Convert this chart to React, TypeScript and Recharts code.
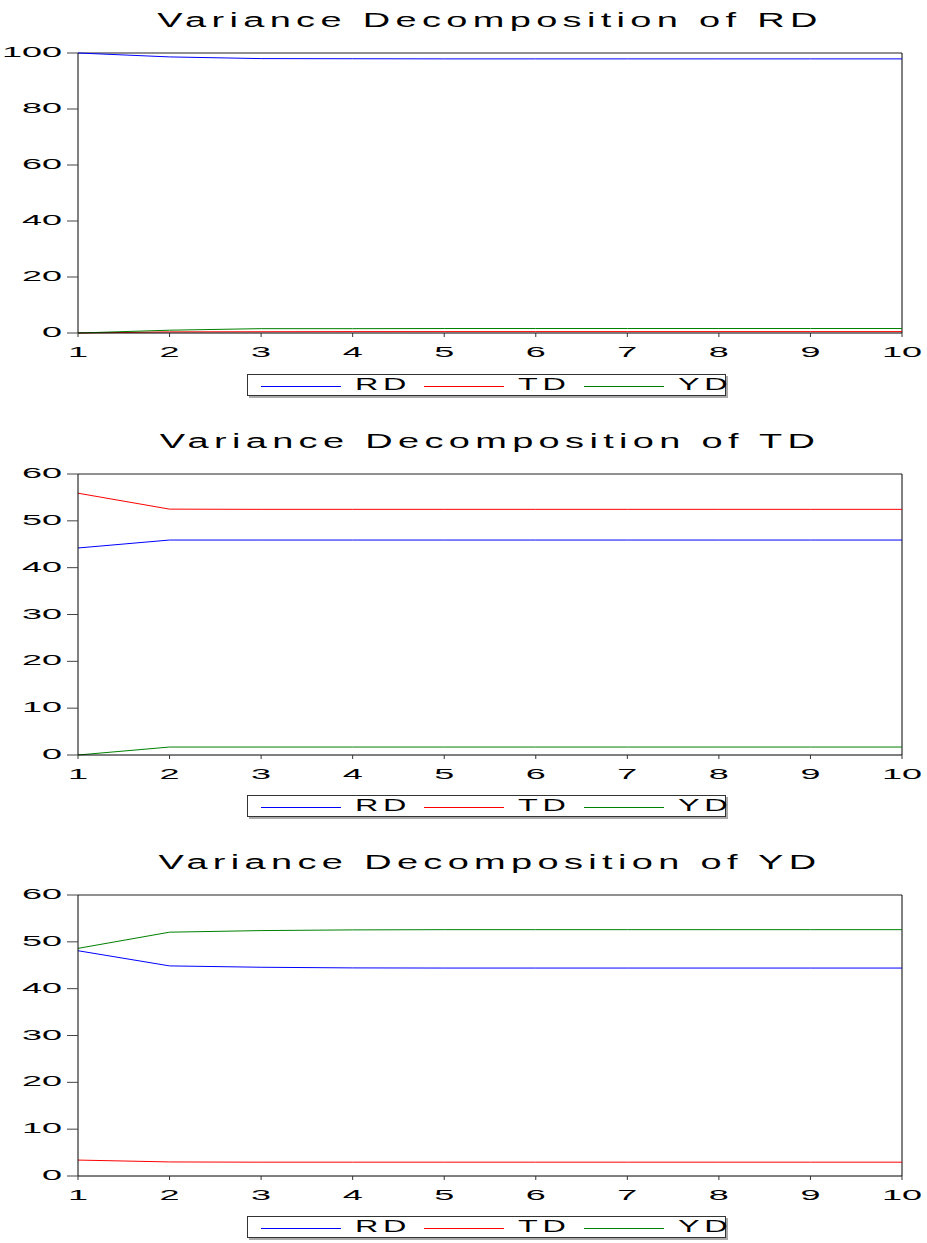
import React from 'react';
import { LineChart, Line, XAxis, YAxis, ReferenceLine } from 'recharts';

// ---------- data ----------
const periods = [1, 2, 3, 4, 5, 6, 7, 8, 9, 10];
const seriesNames = ['RD', 'TD', 'YD'];
const seriesColors = ['#0000ff', '#ff0000', '#008000'];

// Variance Decomposition of RD
const rdOfRD = [100, 98.6, 98.0, 97.95, 97.9, 97.9, 97.9, 97.9, 97.9, 97.9];
const tdOfRD = [0, 0.4, 0.45, 0.5, 0.5, 0.5, 0.5, 0.5, 0.5, 0.5];
const ydOfRD = [0, 1.0, 1.55, 1.55, 1.6, 1.6, 1.6, 1.6, 1.6, 1.6];

// Variance Decomposition of TD
const rdOfTD = [44.2, 45.9, 45.9, 45.9, 45.9, 45.9, 45.9, 45.9, 45.9, 45.9];
const tdOfTD = [55.9, 52.5, 52.45, 52.45, 52.45, 52.45, 52.45, 52.45, 52.45, 52.45];
const ydOfTD = [0, 1.7, 1.7, 1.7, 1.7, 1.7, 1.7, 1.7, 1.7, 1.7];

// Variance Decomposition of YD
const rdOfYD = [48.1, 44.86, 44.57, 44.43, 44.4, 44.4, 44.4, 44.4, 44.4, 44.4];
const tdOfYD = [3.4, 3.0, 2.95, 2.95, 2.95, 2.95, 2.95, 2.95, 2.95, 2.95];
const ydOfYD = [48.6, 52.06, 52.4, 52.55, 52.6, 52.6, 52.6, 52.6, 52.6, 52.6];

const titles = [
  'Variance Decomposition of RD',
  'Variance Decomposition of TD',
  'Variance Decomposition of YD',
];
const yTicks100 = [0, 20, 40, 60, 80, 100];
const yTicks60 = [0, 10, 20, 30, 40, 50, 60];

// ---------- layout / style ----------
const FONT = '"Liberation Sans", Arial, Helvetica, sans-serif';
const W = 927;
const PLOT_LEFT = 78;
const PLOT_RIGHT = 902;
const PLOT_TOP = 53;
const XAXIS_H = 88;

const panels = [
  { title: titles[0], series: [rdOfRD, tdOfRD, ydOfRD], ticks: yTicks100, max: 100, offset: 0, plotH: 280 },
  { title: titles[1], series: [rdOfTD, tdOfTD, ydOfTD], ticks: yTicks60, max: 60, offset: 421, plotH: 281 },
  { title: titles[2], series: [rdOfYD, tdOfYD, ydOfYD], ticks: yTicks60, max: 60, offset: 842, plotH: 281 },
];

const TICK_FS = 15;
const TICK_SX = 2.4;
const TITLE_FS = 20;
const TITLE_SX = 1.9;
const TITLE_LS = 2.8;
const LEG_FS = 17;
const LEG_SX = 1.9;
const LEG_LS = 2.5;

let ctxCache: CanvasRenderingContext2D | null = null;
function textWidth(t: string, fs: number, ls: number, sx: number): number {
  try {
    if (!ctxCache) ctxCache = document.createElement('canvas').getContext('2d');
    if (ctxCache) {
      ctxCache.font = `${fs}px ${FONT}`;
      return (ctxCache.measureText(t).width + ls * (t.length - 1)) * sx;
    }
  } catch (e) {}
  return (t.length * fs * 0.7 + ls * (t.length - 1)) * sx;
}

const YTick = (props: any) => {
  const { x, y, payload } = props;
  return (
    <g transform={`translate(${x - 3},${y + 4}) scale(${TICK_SX},1)`}>
      <text x={0} y={0} textAnchor="end" fontSize={TICK_FS} fontFamily={FONT} fill="#000">
        {payload.value}
      </text>
    </g>
  );
};

const XTick = (props: any) => {
  const { x, y, payload } = props;
  return (
    <g transform={`translate(${x},${y + 18}) scale(${TICK_SX},1)`}>
      <text x={0} y={0} textAnchor="middle" fontSize={TICK_FS} fontFamily={FONT} fill="#000">
        {payload.value}
      </text>
    </g>
  );
};

const Legendbox = ({ top }: { top: number }) => {
  const boxLeft = 247;
  const boxW = 479;
  const boxH = 22;
  const lineLen = 80;
  const items: { x: number; name: string; color: string }[] = [];
  let cur = 14;
  seriesNames.forEach((name, i) => {
    items.push({ x: cur, name, color: seriesColors[i] });
    cur += lineLen + 14 + textWidth(name, LEG_FS, LEG_LS, LEG_SX) + 18;
  });
  return (
    <div
      style={{
        position: 'absolute',
        left: boxLeft,
        top,
        width: boxW,
        height: boxH,
        boxSizing: 'border-box',
        border: '1px solid #333',
        boxShadow: '2px 2px 0 #aaa',
        background: '#fff',
      }}
    >
      {items.map((it) => (
        <React.Fragment key={it.name}>
          <div
            style={{
              position: 'absolute',
              left: it.x - 1,
              top: 11,
              width: lineLen,
              height: 1,
              background: it.color,
            }}
          />
          <div
            style={{
              position: 'absolute',
              left: it.x + lineLen + 13,
              top: 0,
              height: 20,
              lineHeight: '20px',
              fontSize: LEG_FS,
              fontFamily: FONT,
              letterSpacing: LEG_LS,
              color: '#000',
              whiteSpace: 'nowrap',
              transform: `scaleX(${LEG_SX})`,
              transformOrigin: 'left center',
            }}
          >
            {it.name}
          </div>
        </React.Fragment>
      ))}
    </div>
  );
};

const Panel = ({ p }: { p: typeof panels[number] }) => {
  const data = periods.map((period, i) => {
    const row: any = { period };
    seriesNames.forEach((n, k) => {
      row[n] = p.series[k][i];
    });
    return row;
  });
  const height = PLOT_TOP + p.plotH + XAXIS_H;
  return (
    <div style={{ position: 'absolute', left: 0, top: p.offset, width: W, height }}>
      <svg width={W} height={40} style={{ position: 'absolute', left: 0, top: 0 }}>
        <g transform={`translate(${(PLOT_LEFT + PLOT_RIGHT) / 2},27) scale(${TITLE_SX},1)`}>
          <text x={0} y={0} textAnchor="middle" fontSize={TITLE_FS} fontFamily={FONT} letterSpacing={TITLE_LS} fill="#000">
            {p.title}
          </text>
        </g>
      </svg>
      <div style={{ position: 'absolute', left: 0, top: 0 }}>
        <LineChart
          width={W}
          height={height}
          data={data}
          margin={{ top: PLOT_TOP, right: W - PLOT_RIGHT, bottom: 0, left: 0 }}
        >
          <XAxis
            dataKey="period"
            type="number"
            domain={[1, 10]}
            ticks={periods}
            interval={0}
            height={XAXIS_H}
            tickSize={4}
            axisLine={{ stroke: '#000' }}
            tickLine={{ stroke: '#333' }}
            tick={(props: any) => <XTick {...props} />}
          />
          <YAxis
            type="number"
            domain={[0, p.max]}
            ticks={p.ticks}
            interval={0}
            width={PLOT_LEFT}
            tickSize={11}
            axisLine={{ stroke: '#000' }}
            tickLine={{ stroke: '#444' }}
            tick={(props: any) => <YTick {...props} />}
          />
          <ReferenceLine y={p.max} stroke="#222" strokeWidth={1} />
          <ReferenceLine x={10} stroke="#000" strokeWidth={1} />
          {seriesNames.map((n, k) => (
            <Line
              key={n}
              type="linear"
              dataKey={n}
              stroke={seriesColors[k]}
              strokeWidth={1}
              dot={false}
              activeDot={false}
              isAnimationActive={false}
            />
          ))}
        </LineChart>
      </div>
      <Legendbox top={374} />
    </div>
  );
};

export default function App() {
  return (
    <div
      style={{
        position: 'absolute',
        left: 0,
        top: 0,
        width: W,
        height: 1243,
        overflow: 'hidden',
        background: '#fff',
        fontFamily: FONT,
      }}
    >
      {panels.map((p) => (
        <Panel key={p.title} p={p} />
      ))}
    </div>
  );
}
